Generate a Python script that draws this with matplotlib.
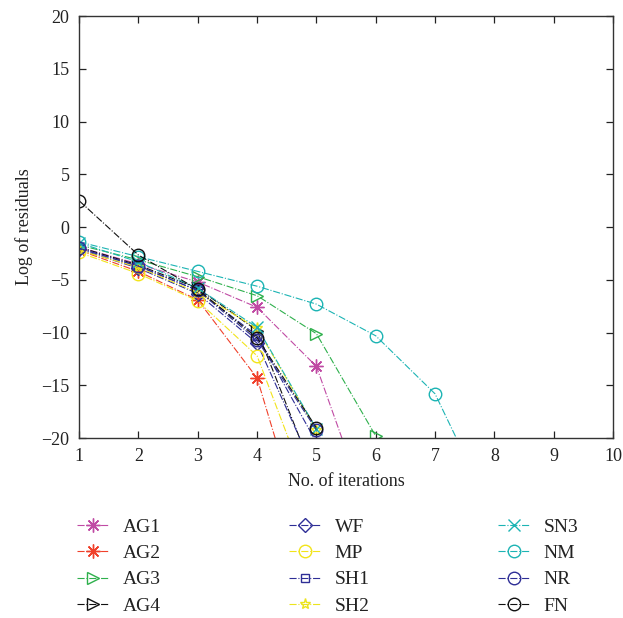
import numpy as np
import matplotlib.pyplot as plt

plt.rcParams['font.family'] = ['Liberation Serif', 'DejaVu Serif']

# iteration numbers and log residuals
names = ['AG1', 'AG2', 'AG3', 'AG4', 'WF', 'MP', 'SH1', 'SH2', 'SN3', 'NM', 'NR', 'FN']
AG1 = [-1.9, -3.5, -5.2, -7.6, -13.2, -29.0]
AG2 = [-2.2, -4.2, -6.9, -14.3, -33.0]
AG3 = [-1.7, -3.1, -4.7, -6.5, -10.1, -19.8]
AG4 = [-1.9, -3.6, -5.8, -9.8, -24.0]
WF = [-2.1, -3.9, -6.3, -11.0, -23.5]
MP = [-2.4, -4.4, -7.0, -12.2, -27.0]
SH1 = [-2.0, -3.7, -6.0, -10.3, -20.4]
SH2 = [-2.2, -3.8, -6.2, -9.6, -19.2]
SN3 = [-1.5, -3.3, -5.8, -9.5, -19.1]
NM = [-1.4, -2.8, -4.2, -5.6, -7.3, -10.3, -15.8, -27.5]
NR = [-2.0, -3.7, -6.0, -10.7, -19.2]
FN = [2.5, -2.65, -5.9, -10.5, -19.0]
series = [AG1, AG2, AG3, AG4, WF, MP, SH1, SH2, SN3, NM, NR, FN]

colors = ['#c04aa4', '#f0402a', '#2eb04c', '#111111', '#2e2e96', '#f2e41a',
          '#2e2e96', '#ece41e', '#1cb4b4', '#1cb4b4', '#2e2e96', '#111111']
# (8, 2, 0) gives an eight-spoke asterisk like MATLAB's '*'
markers = [(8, 2, 0), (8, 2, 0), '>', '>', 'D', 'o', 's', '*', 'x', 'o', 'o', 'o']
msizes = [10, 10, 9, 9, 7, 9, 6, 8, 8, 9, 9, 9]

fig = plt.figure(figsize=(6.23, 6.18), dpi=100)
ax = fig.add_axes([0.127, 0.291, 0.857, 0.683])

for vals, name, c, m, ms in zip(series, names, colors, markers, msizes):
    it = np.arange(1, len(vals) + 1)
    ax.plot(it, vals, linestyle='-.', color=c, linewidth=0.8,
            marker=m, markersize=ms, markerfacecolor='none',
            markeredgecolor=c, markeredgewidth=1.0, label=name)

ax.set_xlim(1, 10)
ax.set_ylim(-20, 20)
ax.set_xticks(range(1, 11))
ax.set_yticks(range(-20, 21, 5))
ax.set_yticklabels(['\u221220', '\u221215', '\u221210', '\u22125', '0', '5', '10', '15', '20'])
ax.tick_params(direction='in', top=True, right=True, length=5, width=0.9,
               labelsize=13, colors='#222222', pad=7)
for s in ax.spines.values():
    s.set_color('#333333')
    s.set_linewidth(1.0)

ax.set_xlabel('No. of iterations', fontsize=13, color='#222222', labelpad=6)
ax.set_ylabel('Log of residuals', fontsize=13, color='#222222', labelpad=6)

leg = fig.legend(loc='upper left', bbox_to_anchor=(0.095, 0.19), ncol=3,
                 frameon=False, fontsize=14, handlelength=1.65, handletextpad=0.7,
                 columnspacing=6.6, labelspacing=0.45)
for t in leg.get_texts():
    t.set_color('#222222')

fig.savefig('out.png', dpi=100)
